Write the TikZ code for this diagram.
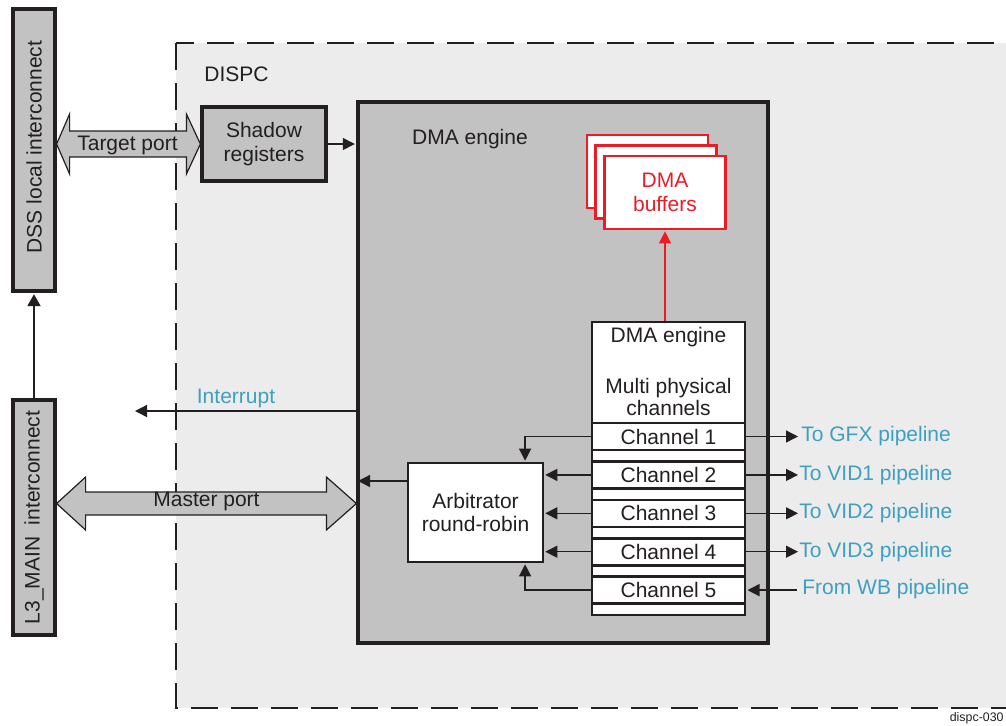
\documentclass[tikz,border=0pt]{standalone}
\usepackage{fontspec}
\setmainfont{Liberation Sans}
\usetikzlibrary{arrows.meta,calc}
\definecolor{bgg}{HTML}{ECECEC}
\definecolor{boxg}{HTML}{C2C2C2}
\definecolor{pipeblue}{RGB}{62,160,192}
\definecolor{bufred}{RGB}{237,28,36}
\definecolor{linek}{HTML}{231F20}
\begin{document}
\begin{tikzpicture}[x=0.5pt,y=-0.5pt,
  every node/.style={font=\fontsize{10.5}{11.9}\selectfont, text=linek, inner sep=0pt, align=center},
  bar/.style={draw=linek, fill=boxg, line width=1.6pt},
  shadowbox/.style={draw=linek, fill=boxg, line width=1.6pt, minimum width=62pt, minimum height=37pt},
  dmabox/.style={draw=linek, fill=boxg, line width=1.6pt, minimum width=205pt, minimum height=270.5pt},
  chanouter/.style={draw=linek, fill=white, line width=1.3pt, minimum width=76.5pt, minimum height=146.5pt},
  chan/.style={draw=linek, fill=white, line width=1.3pt, minimum width=76.5pt, minimum height=13.5pt},
  arbbox/.style={draw=linek, fill=white, line width=1.1pt, minimum width=67.5pt, minimum height=49.5pt},
  bufbox/.style={draw=bufred, fill=white, line width=1.1pt, minimum width=60.5pt, minimum height=36.5pt},
  arr/.style={draw=linek, line width=0.65pt, -{Triangle[length=6pt,width=6pt]}},
  bigarr/.style={draw=linek, line width=1pt, -{Triangle[length=6pt,width=6.5pt]}},
  redarr/.style={draw=bufred, line width=0.65pt, -{Triangle[length=6pt,width=6pt]}},
  dbl/.style={draw=linek, fill=boxg, line width=0.6pt, line join=miter},
  dispcbox/.style={draw=linek, fill=bgg, line width=1.4pt, dash pattern=on 13.5pt off 6.5pt},
  bluetxt/.style={text=pipeblue},
  redtxt/.style={text=bufred}
]
\useasboundingbox (0,0) rectangle (1006,725);
\clip (0,0) rectangle (1006,725);

% DISPC region
\draw[dispcbox] (176,43) rectangle (1040,708);
\node (dispc) at (236.5,74) {DISPC};

% interconnect bars
\node[bar, minimum width=21pt, minimum height=141pt] (dss) at (34,150) {};
\node[rotate=90] (dsst) at (34,147) {DSS local interconnect};
\node[bar, minimum width=21pt, minimum height=117.5pt] (l3) at (34,517.5) {};
\node[rotate=90] (l3t) at (34,517.5) {L3\_MAIN\ \ interconnect};
\draw[bigarr, shorten >=0.8pt] (l3.north) -- (dss.south);

% shadow registers
\node[shadowbox] (shadow) at (264,144) {Shadow\\registers};

% DMA engine big box
\node[dmabox] (dma) at (563,372.5) {};
\node (dmat) at (470,139) {DMA engine};
\draw[arr, shorten >=0.8pt] (shadow.east) -- (shadow.east -| dma.west);

% target port double arrow
\coordinate (tpL) at (dss.east |- shadow.west);
\coordinate (tpR) at (shadow.west);
\draw[dbl] (tpL) -- ($(tpL)+(13,-30)$) -- ($(tpL)+(13,-13)$) -- ($(tpR)+(-14,-13)$) -- ($(tpR)+(-14,-30)$) -- (tpR)
  -- ($(tpR)+(-14,30)$) -- ($(tpR)+(-14,13)$) -- ($(tpL)+(13,13)$) -- ($(tpL)+(13,30)$) -- cycle;
\node (tpt) at ($(tpL)!0.5!(tpR)+(-1,1)$) {Target port};

% master port double arrow
\coordinate (mpL) at ($(l3.east)+(0,-14)$);
\coordinate (mpR) at (mpL -| dma.west);
\draw[dbl] (mpL) -- ($(mpL)+(29,-26.5)$) -- ($(mpL)+(29,-11.5)$) -- ($(mpR)+(-30,-11.5)$) -- ($(mpR)+(-30,-26.5)$) -- (mpR)
  -- ($(mpR)+(-30,26.5)$) -- ($(mpR)+(-30,11.5)$) -- ($(mpL)+(29,11.5)$) -- ($(mpL)+(29,26.5)$) -- cycle;
\node (mpt) at ($(mpL)!0.5!(mpR)+(0,-2)$) {Master port};

% interrupt
\coordinate (intr) at (135,411);
\draw[arr] (intr -| dma.west) -- (intr);
\node[bluetxt] (intt) at (236,398) {Interrupt};

% DMA buffers
\node[bufbox] (buf1) at (647.5,171.5) {};
\node[bufbox] (buf2) at (656,182) {};
\node[bufbox, redtxt] (buf3) at (665,192.5) {DMA\\buffers};

% channels block
\node[chanouter] (chbox) at (668.5,468.5) {};
\node (cht1) at (668.5,337) {DMA engine};
\node[font=\fontsize{10.5}{10.8}\selectfont] (cht2) at (668.5,397) {Multi physical\\channels};
\foreach \i/\y in {1/436.5,2/474.9,3/513.3,4/551.7,5/590.1}
  \node[chan] (ch\i) at (668.5,\y) {Channel \i};

\draw[redarr, shorten >=0.6pt] (buf3.south |- chbox.north) -- (buf3.south);

% arbitrator
\node[arbbox] (arb) at (475.5,512.5) {Arbitrator\\round-robin};
\draw[arr, shorten >=0.6pt] (ch1.west) -| ($(arb.north east)+(-19,0)$);
\foreach \i in {2,3,4}
  \draw[arr, shorten >=0.6pt] (ch\i.west) -- (ch\i.west -| arb.east);
\draw[arr, shorten >=0.6pt] (ch5.west) -| ($(arb.south east)+(-19,0)$);
\coordinate (aw) at ($(arb.west)+(0,-31.5)$);
\draw[arr, shorten >=0.8pt] (aw) -- (aw -| dma.west);

% outputs
\coordinate (tx) at (798,0);
\draw[arr] (ch1.east) -- (ch1.east -| tx);
\draw[arr] (ch2.east) -- (ch2.east -| tx);
\draw[arr] (ch3.east) -- (ch3.east -| tx);
\draw[arr] (ch4.east) -- (ch4.east -| tx);
\node[bluetxt, anchor=west] (o1) at ($(ch1.east -| tx)+(3,0)$) {To GFX pipeline};
\node[bluetxt, anchor=west] (o2) at ($(ch2.east -| tx)+(1,0)$) {To VID1 pipeline};
\node[bluetxt, anchor=west] (o3) at ($(ch3.east -| tx)+(1,0)$) {To VID2 pipeline};
\node[bluetxt, anchor=west] (o4) at ($(ch4.east -| tx)+(1,0)$) {To VID3 pipeline};
\node[bluetxt, anchor=west] (wb) at ($(ch5.east -| tx)+(4,-1)$) {From WB pipeline};
\draw[arr, shorten <=2.5pt, shorten >=0.6pt] (wb.west |- ch5.east) -- (ch5.east);

% figure id
\node[font=\fontsize{6.2}{7}\selectfont, anchor=base east] (fid) at (1004,721) {dispc-030};
\end{tikzpicture}
\end{document}
